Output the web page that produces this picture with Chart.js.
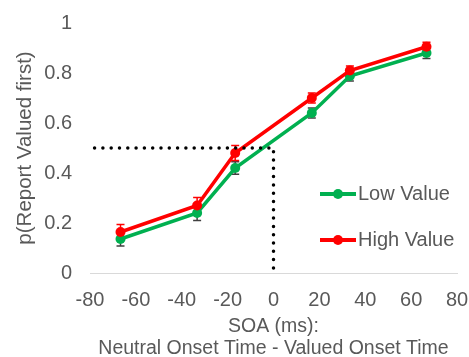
<!DOCTYPE html>
<html>
<head>
<meta charset="utf-8">
<script src="https://cdn.jsdelivr.net/npm/chart.js@4/dist/chart.umd.min.js"></script>
<style>
    html, body { margin: 0; padding: 0; background: #fff; }
    #wrap { width: 469px; height: 357px; }
</style>
</head>
<body>
<div id="wrap"><canvas id="chart" width="469" height="357"></canvas></div>
<script>
// SOA in ms (frame-locked values)
const soa = [-66.7, -33.3, -16.7, 16.7, 33.3, 66.7];
const lowValue = [0.136, 0.24, 0.42, 0.64, 0.788, 0.88];
const highValue = [0.164, 0.27, 0.48, 0.70, 0.81, 0.905];
const lowErr = [0.028, 0.03, 0.025, 0.02, 0.02, 0.022];
const highErr = [0.03, 0.032, 0.03, 0.02, 0.018, 0.018];
// dotted guide: 50% point of subjective simultaneity
const refX = [-78, 0, 0];
const refY = [0.5, 0.5, 0];
const xRange = [-80, 80];
const yRange = [0, 1];
const seriesNames = ['Low Value', 'High Value'];

const fontFamily = '"Liberation Sans", Arial, sans-serif';
const textColor = '#595959';
const green = '#00B050';
const red = '#FF0000';

const toPoints = (xs, ys) => xs.map((x, i) => ({ x, y: ys[i] }));

const errorBars = {
    id: 'errorBars',
    beforeDatasetsDraw(chart) {
        const { ctx, scales: { x, y } } = chart;
        chart.data.datasets.forEach(ds => {
            if (!ds.errors) {
                return;
            }
            ctx.save();
            ctx.strokeStyle = ds.errorColor;
            ctx.lineWidth = 1.5;
            ds.data.forEach((p, j) => {
                const px = x.getPixelForValue(p.x);
                const top = y.getPixelForValue(p.y + ds.errors[j]);
                const bot = y.getPixelForValue(p.y - ds.errors[j]);
                ctx.beginPath();
                ctx.moveTo(px, top);
                ctx.lineTo(px, bot);
                ctx.moveTo(px - 4, top);
                ctx.lineTo(px + 4, top);
                ctx.moveTo(px - 4, bot);
                ctx.lineTo(px + 4, bot);
                ctx.stroke();
            });
            ctx.restore();
        });
    },
};

const insideLegend = {
    id: 'insideLegend',
    afterDraw(chart) {
        const { ctx, chartArea } = chart;
        const items = chart.data.datasets.filter(ds => ds.inLegend);
        const x0 = chartArea.right - 137;
        let yy = chartArea.top + 171;
        ctx.save();
        items.forEach(ds => {
            ctx.strokeStyle = ds.borderColor;
            ctx.lineWidth = 4;
            ctx.beginPath();
            ctx.moveTo(x0, yy);
            ctx.lineTo(x0 + 36, yy);
            ctx.stroke();
            ctx.fillStyle = ds.borderColor;
            ctx.beginPath();
            ctx.arc(x0 + 18, yy, 5, 0, Math.PI * 2);
            ctx.fill();
            ctx.fillStyle = textColor;
            ctx.font = '20px ' + fontFamily;
            ctx.textBaseline = 'middle';
            ctx.textAlign = 'left';
            ctx.fillText(ds.label, x0 + 38, yy);
            yy += 46;
        });
        ctx.restore();
    },
};

new Chart(document.getElementById('chart'), {
    type: 'scatter',
    data: {
        datasets: [
            {
                label: seriesNames[0],
                data: toPoints(soa, lowValue),
                errors: lowErr,
                errorColor: '#404040',
                inLegend: true,
                showLine: true,
                borderColor: green,
                backgroundColor: green,
                borderWidth: 3.5,
                pointRadius: 5,
                pointBorderWidth: 0,
                order: 2,
            },
            {
                label: seriesNames[1],
                data: toPoints(soa, highValue),
                errors: highErr,
                errorColor: red,
                inLegend: true,
                showLine: true,
                borderColor: red,
                backgroundColor: red,
                borderWidth: 3.5,
                pointRadius: 5,
                pointBorderWidth: 0,
                order: 1,
            },
            {
                label: 'guide',
                data: toPoints(refX, refY),
                showLine: true,
                borderColor: '#000',
                borderWidth: 3.5,
                borderDash: [0, 8.3],
                borderCapStyle: 'round',
                pointRadius: 0,
                order: 0,
            },
        ],
    },
    options: {
        responsive: false,
        animation: false,
        layout: { padding: { left: 0, top: 23, right: 12, bottom: 0 } },
        plugins: {
            legend: { display: false },
            tooltip: { enabled: false },
        },
        scales: {
            x: {
                type: 'linear',
                min: xRange[0],
                max: xRange[1],
                afterFit(scale) {
                    scale.height = 84;
                    scale.paddingLeft = 0;
                    scale.paddingRight = 0;
                },
                ticks: {
                    stepSize: 20,
                    color: textColor,
                    padding: 15,
                    font: { family: fontFamily, size: 20 },
                },
                grid: { display: false, drawTicks: false },
                border: { display: true, color: '#d9d9d9', width: 1 },
                title: {
                    display: true,
                    text: ['SOA (ms):', 'Neutral Onset Time - Valued Onset Time'],
                    color: textColor,
                    font: { family: fontFamily, size: 19.5, lineHeight: 1.14 },
                    padding: { top: 0, bottom: -3 },
                },
            },
            y: {
                type: 'linear',
                min: yRange[0],
                max: yRange[1],
                afterFit(scale) {
                    scale.width = 90;
                    scale.paddingTop = 0;
                    scale.paddingBottom = 0;
                },
                ticks: {
                    stepSize: 0.2,
                    color: textColor,
                    padding: 18,
                    font: { family: fontFamily, size: 20 },
                    callback: v => String(+v.toFixed(1)),
                },
                grid: { display: false, drawTicks: false },
                border: { display: false },
                title: {
                    display: true,
                    text: 'p(Report Valued first)',
                    color: textColor,
                    font: { family: fontFamily, size: 20.5, lineHeight: 1.2 },
                    padding: { top: 13, bottom: 0 },
                },
            },
        },
    },
    plugins: [errorBars, insideLegend],
});
</script>
</body>
</html>
